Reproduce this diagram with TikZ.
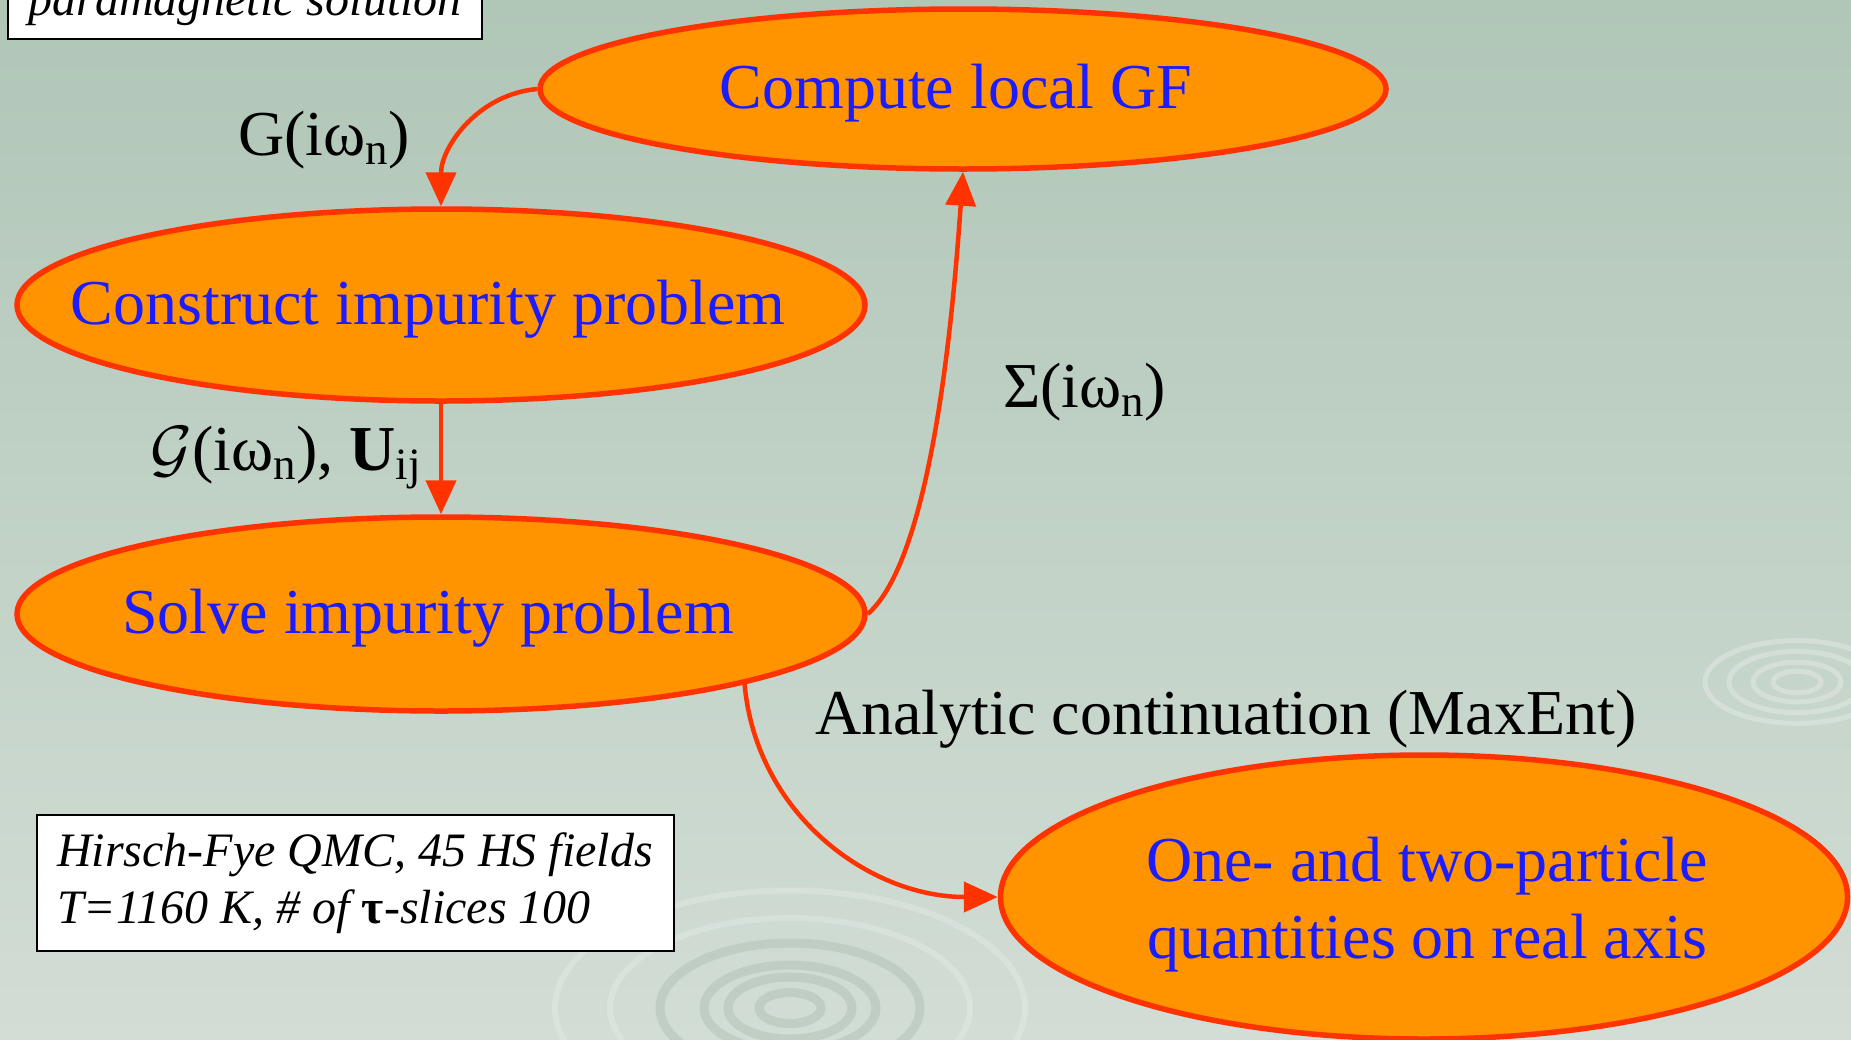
\documentclass[tikz,border=0pt]{standalone}
\usepackage{fix-cm}
\usepackage{fontspec}
\setmainfont{Liberation Serif}
\usetikzlibrary{shapes.geometric,arrows.meta}

\definecolor{BackTop}{HTML}{B0C6B7}
\definecolor{BackLow}{HTML}{D2DDD5}
\definecolor{Ring}{HTML}{B6C4BA}
\definecolor{Fill}{HTML}{FF9400}
\definecolor{Rim}{HTML}{FF3300}
\definecolor{Word}{HTML}{1C1CFF}

\tikzset{
  stage/.style={ellipse, draw=Rim, line width=5.5, fill=Fill, inner sep=0},
  title/.style={text=Word, align=center, inner sep=0, yshift=-4,
    font=\fontsize{64}{77}\selectfont},
  flow/.style={draw=Rim, line width=4.5, -{Triangle[length=34pt,width=30pt]}},
  lab/.style={anchor=base west, inner sep=0, font=\fontsize{64}{72}\selectfont},
  note/.style={draw=black, line width=2, fill=white, align=left,
    font=\itshape\fontsize{48}{57}\selectfont}
}

\begin{document}
\begin{tikzpicture}[x=1pt, y=1pt]

  %%%%%%%%%% Page and background %%%%%%%%%%
 \useasboundingbox (0,0) rectangle (1851,-1039);
 \clip (0,0) rectangle (1851,-1039);
 \shade [top color=BackTop, bottom color=BackLow] (0,0) rectangle (1851,-1039);

 %%%%%%%%%% Ripples %%%%%%%%%%
 \coordinate (rip1) at (1797,-682);
 \coordinate (rip2) at (790,-1008);
 \foreach \r in {24,44,68,92}
   \draw [white, opacity=0.25, line width=5] (rip1) ellipse [x radius=\r, y radius=0.45*\r];
 \foreach \r in {31,62,86,130}
   \draw [Ring, opacity=0.6, line width=9] (rip2) ellipse [x radius=\r, y radius=0.5*\r];
 \foreach \r in {180,235}
   \draw [white, opacity=0.2, line width=6] (rip2) ellipse [x radius=\r, y radius=0.5*\r];

 %%%%%%%%%% Stages of the loop %%%%%%%%%%
 \node (cmp) [stage, minimum width=846, minimum height=160] at (963,-89) {};
 \node (con) [stage, minimum width=848, minimum height=192] at (441,-305) {};
 \node (sol) [stage, minimum width=848, minimum height=194] at (441,-614) {};
 \node (one) [stage, minimum width=847, minimum height=284] at (1424,-897) {};

 \node (cmpT) [title, xshift=-7] at (cmp.center) {Compute local GF};
 \node (conT) [title, xshift=-13] at (con.center) {Construct impurity problem};
 \node (solT) [title, xshift=-13] at (sol.center) {Solve impurity problem};
 \node (oneT) [title, yshift=-4, xshift=3] at (one.center) {One- and two-particle\\quantities on real axis};

 %%%%%%%%%% Arrows %%%%%%%%%%
 \draw [flow] (cmp.west) to[out=185, in=90] (con.north);
 \draw [flow] (con.south) -- (sol.north);
 \draw [flow] (sol.east) .. controls +(62,54) and +(-11,-159) .. (cmp.south);
 \draw [flow] (sol.-13) to[out=-85, in=180] (one.west);

 %%%%%%%%%% Labels %%%%%%%%%%
 \node (gloc) [lab] at (238,-155) {G(iω\textsubscript{n})};
 \node (gbath) [lab] at (150,-470) {$\mathcal{G}$(iω\textsubscript{n}), \textbf{U}\textsubscript{ij}};
 \node (sigma) [lab] at (1003,-407) {Σ(iω\textsubscript{n})};
 \node (mxent) [lab] at (815,-734) {Analytic continuation (MaxEnt)};

 %%%%%%%%%% Boxes %%%%%%%%%%
 \node (para) [note, anchor=base, inner xsep=20, inner ysep=0, text height=70, text depth=24]
   at (245,-15) {paramagnetic solution};
 \node (qmc) [note, minimum width=637, minimum height=136, inner xsep=20] at (355,-883)
   {Hirsch-Fye QMC, 45 HS fields\\T=1160 K, \# of {\upshape\bfseries τ}-slices 100};

\end{tikzpicture}
\end{document}
